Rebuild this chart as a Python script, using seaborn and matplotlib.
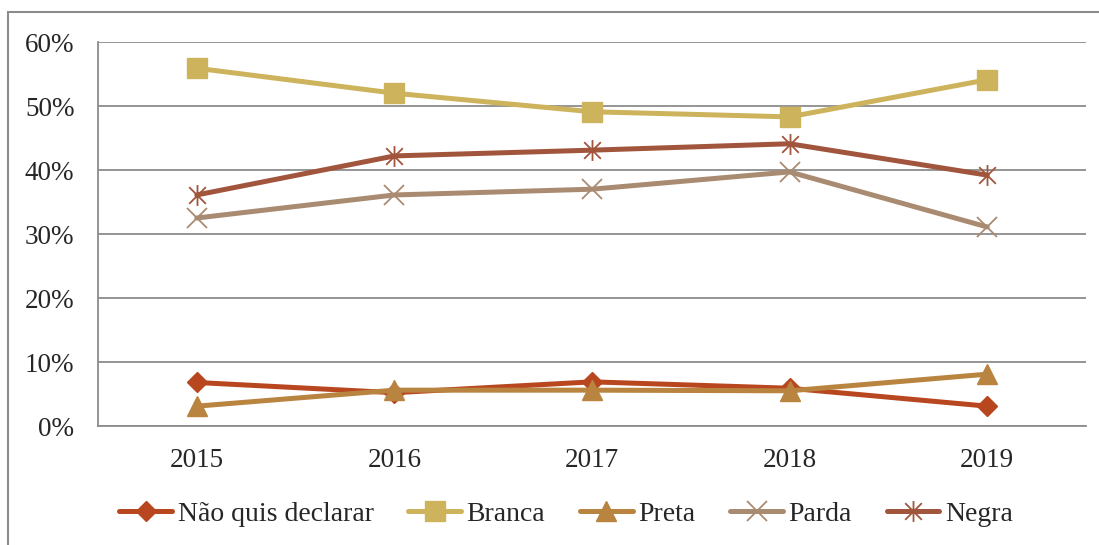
import matplotlib
matplotlib.use('Agg')
import matplotlib.pyplot as plt
import seaborn as sns
import pandas as pd
from matplotlib.path import Path
from matplotlib.patches import Rectangle
from matplotlib.ticker import FixedLocator, PercentFormatter

years = [2015, 2016, 2017, 2018, 2019]
nao_quis = [0.068, 0.052, 0.069, 0.059, 0.031]
branca = [0.559, 0.520, 0.491, 0.483, 0.541]
preta = [0.031, 0.056, 0.056, 0.055, 0.081]
parda = [0.325, 0.361, 0.370, 0.397, 0.311]
negra = [0.361, 0.422, 0.431, 0.441, 0.392]

series_names = ['Não quis declarar', 'Branca', 'Preta', 'Parda', 'Negra']
series_values = [nao_quis, branca, preta, parda, negra]

# excel-like "star" marker: vertical bar + X
star = Path([(0, -1), (0, 1), (-0.8, -0.8), (0.8, 0.8), (-0.8, 0.8), (0.8, -0.8)],
            [Path.MOVETO, Path.LINETO, Path.MOVETO, Path.LINETO, Path.MOVETO, Path.LINETO])

styles = {
    'Não quis declarar': dict(color='#B8461F', marker='D', markersize=10),
    'Branca': dict(color='#CDB35C', marker='s', markersize=14),
    'Preta': dict(color='#B8843F', marker='^', markersize=14),
    'Parda': dict(color='#A98B71', marker='x', markersize=15, markeredgewidth=1.3),
    'Negra': dict(color='#A1553C', marker=star, markersize=15, markeredgewidth=1.3),
}

sns.set_style('white')
plt.rcParams['font.family'] = ['Liberation Serif', 'DejaVu Serif']

fig = plt.figure(figsize=(10.99, 5.45), dpi=100)
ax = fig.add_axes([98 / 1099, 1 - 426 / 545, (1086 - 98) / 1099, (426 - 42) / 545])

for name, vals in zip(series_names, series_values):
    df = pd.DataFrame({'year': years, 'value': vals})
    st = styles[name]
    sns.lineplot(data=df, x='year', y='value', ax=ax, label=name,
                 color=st['color'], marker=st['marker'], markersize=st['markersize'],
                 markeredgewidth=st.get('markeredgewidth', 1.0),
                 markeredgecolor=st['color'], linewidth=3.6, legend=False)

ax.set_xlim(2014.5, 2019.5)
ax.set_ylim(0, 0.6)
ax.yaxis.set_major_locator(FixedLocator([0, 0.1, 0.2, 0.3, 0.4, 0.5, 0.6]))
ax.yaxis.set_major_formatter(PercentFormatter(1.0, decimals=0))
ax.set_xticks(years)
ax.set_xticks([2014.5 + i for i in range(6)], minor=True)
ax.tick_params(axis='x', which='major', length=0, pad=16, labelsize=19.5)
ax.tick_params(axis='x', which='minor', length=6, color='#8c8c8c', width=1.2)
ax.tick_params(axis='y', length=6, color='#8c8c8c', width=1.2, pad=11, labelsize=19.5)
ax.grid(axis='y', color='#8c8c8c', linewidth=1.3)
ax.set_axisbelow(True)
for side in ['top', 'right']:
    ax.spines[side].set_visible(False)
for side in ['left', 'bottom']:
    ax.spines[side].set_color('#8c8c8c')
    ax.spines[side].set_linewidth(1.3)
ax.set_xlabel(None)
ax.set_ylabel(None)

handles, labels = ax.get_legend_handles_labels()
fig.legend(handles, labels, loc='center', bbox_to_anchor=(566 / 1099, 1 - 514 / 545),
           ncol=5, frameon=False, fontsize=20, handlelength=1.9, handletextpad=0.2,
           columnspacing=1.25)

fig.add_artist(Rectangle((8 / 1099, -0.1), 1.2, 1 - 12 / 545 + 0.1,
                         transform=fig.transFigure, fill=False,
                         edgecolor='#8c8c8c', linewidth=1.5))

fig.savefig('out.png', dpi=100)
